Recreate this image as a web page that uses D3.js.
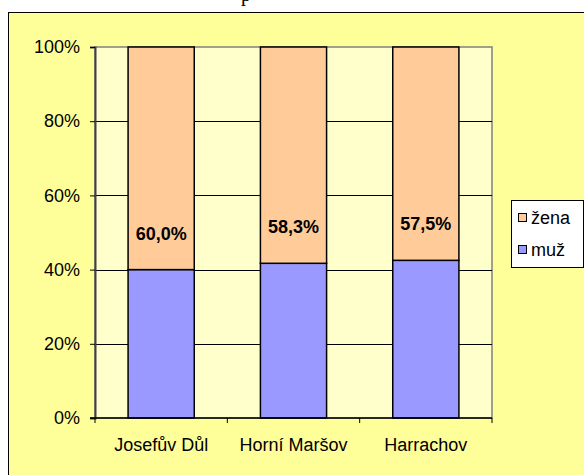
<!DOCTYPE html>
<html>
<head>
<meta charset="utf-8">
<script src="https://cdn.jsdelivr.net/npm/d3@7"></script>
<style>
  body { margin: 0; background: #fff; }
  svg { display: block; }
  text { font-family: "Liberation Sans", Arial, sans-serif; }
</style>
</head>
<body>
<div id="chart"></div>
<script>
// data
const categories = ["Josefův Důl", "Horní Maršov", "Harrachov"];
const muz = [40.0, 41.7, 42.5];
const zena = [60.0, 58.3, 57.5];
const zenaLabels = ["60,0%", "58,3%", "57,5%"];
const yTicks = [0, 20, 40, 60, 80, 100];
const seriesNames = ["žena", "muž"];
const colors = { "muž": "#9999ff", "žena": "#ffcc99" };

const W = 584, H = 475;
const plot = { left: 95, right: 492, top: 47, bottom: 418 };

const svg = d3.select("#chart").append("svg")
  .attr("width", W).attr("height", H);

// chart area (border only partly inside the window)
svg.append("rect")
  .attr("x", 8.5).attr("y", 12.5)
  .attr("width", W + 10).attr("height", H + 10)
  .attr("fill", "#ffff99").attr("stroke", "#000").attr("stroke-width", 1);

// title, cut off by the top of the picture
svg.append("text")
  .attr("x", 246).attr("y", 1)
  .attr("text-anchor", "middle")
  .style("font-family", "'Liberation Serif', 'Times New Roman', serif")
  .style("font-size", "20px")
  .text("p");

const x = d3.scaleBand().domain(categories)
  .range([plot.left, plot.right]).paddingInner(0.5).paddingOuter(0.25);
const y = d3.scaleLinear().domain([0, 100]).range([plot.bottom, plot.top]);

// plot area
svg.append("rect")
  .attr("x", plot.left).attr("y", plot.top)
  .attr("width", plot.right - plot.left).attr("height", plot.bottom - plot.top)
  .attr("fill", "#ffffcc").attr("stroke", "#808080").attr("stroke-width", 1.5);

// gridlines
svg.append("g").selectAll("line")
  .data(yTicks.filter(d => d > 0 && d < 100))
  .join("line")
  .attr("x1", plot.left).attr("x2", plot.right)
  .attr("y1", d => Math.round(y(d)) + 0.5).attr("y2", d => Math.round(y(d)) + 0.5)
  .attr("stroke", "#000").attr("stroke-width", 1);

// stacked bars
const rows = categories.map((c, i) => ({ cat: c, "muž": muz[i], "žena": zena[i], label: zenaLabels[i] }));
const stack = d3.stack().keys(["muž", "žena"])(rows);

svg.append("g").selectAll("g")
  .data(stack)
  .join("g")
  .attr("fill", d => colors[d.key])
  .selectAll("rect")
  .data(d => d)
  .join("rect")
  .attr("x", d => x(d.data.cat))
  .attr("y", d => y(d[1]))
  .attr("width", x.bandwidth())
  .attr("height", d => y(d[0]) - y(d[1]))
  .attr("stroke", "#000").attr("stroke-width", 1.5);

// value labels on the žena segments
svg.append("g").selectAll("text")
  .data(rows)
  .join("text")
  .attr("x", d => x(d.cat) + x.bandwidth() / 2)
  .attr("y", d => y(d["muž"]) - 36)
  .attr("text-anchor", "middle")
  .attr("dominant-baseline", "central")
  .style("font-size", "18px").style("font-weight", "bold")
  .text(d => d.label);

// y axis
const yAxis = svg.append("g")
  .attr("transform", `translate(${plot.left},0)`)
  .call(d3.axisLeft(y).tickValues(yTicks).tickSize(5).tickPadding(10).tickFormat(d => d + "%"));
yAxis.select(".domain").attr("stroke", "#404040").attr("stroke-width", 2);
yAxis.selectAll(".tick line").attr("stroke", "#000");
yAxis.selectAll(".tick text").style("font-size", "18px").attr("fill", "#000")
  .style("font-family", "'Liberation Sans', Arial, sans-serif");

// x axis
const step = x.step();
const xTicks = d3.range(categories.length + 1).map(i => plot.left + i * step);
svg.append("line")
  .attr("x1", plot.left - 5).attr("x2", plot.right)
  .attr("y1", plot.bottom).attr("y2", plot.bottom)
  .attr("stroke", "#000").attr("stroke-width", 1.5);
svg.append("g").selectAll("line")
  .data(xTicks)
  .join("line")
  .attr("x1", d => d).attr("x2", d => d)
  .attr("y1", plot.bottom).attr("y2", plot.bottom + 5)
  .attr("stroke", "#000");
svg.append("g").selectAll("text")
  .data(categories)
  .join("text")
  .attr("x", d => x(d) + x.bandwidth() / 2)
  .attr("y", plot.bottom + 27)
  .attr("text-anchor", "middle")
  .attr("dominant-baseline", "central")
  .style("font-size", "18px")
  .text(d => d);

// legend
const lg = svg.append("g").attr("transform", "translate(511,200)");
lg.append("rect")
  .attr("x", 0.5).attr("y", 0.5).attr("width", 72).attr("height", 67)
  .attr("fill", "#fff").attr("stroke", "#000");
const items = lg.selectAll("g.item")
  .data(seriesNames)
  .join("g")
  .attr("class", "item")
  .attr("transform", (d, i) => `translate(7,${18 + i * 32})`);
items.append("rect")
  .attr("x", 0.5).attr("y", -4.5).attr("width", 8).attr("height", 8)
  .attr("fill", d => colors[d]).attr("stroke", "#000");
items.append("text")
  .attr("x", 13).attr("y", 0)
  .attr("dominant-baseline", "central")
  .style("font-size", "18px")
  .text(d => d);
</script>
</body>
</html>
